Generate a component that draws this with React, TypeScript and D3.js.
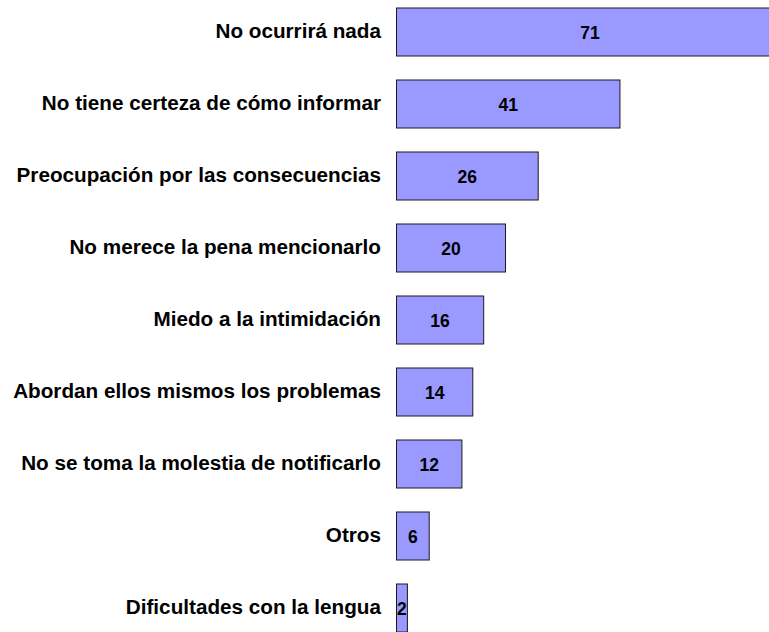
import React from "react";
import * as d3 from "d3";

const categories = [
  "No ocurrirá nada",
  "No tiene certeza de cómo informar",
  "Preocupación por las consecuencias",
  "No merece la pena mencionarlo",
  "Miedo a la intimidación",
  "Abordan ellos mismos los problemas",
  "No se toma la molestia de notificarlo",
  "Otros",
  "Dificultades con la lengua",
];
const values = [71, 41, 26, 20, 16, 14, 12, 6, 2];

const W = 769;
const H = 632;

export default function App() {
  const x = d3.scaleLinear().domain([0, 71]).range([396.5, 396.5 + 71 * 5.45]);
  const y = d3
    .scaleBand<string>()
    .domain(categories)
    .range([-4, 644])
    .paddingInner(1 / 3)
    .paddingOuter(1 / 6);
  const font = "'Liberation Sans', Arial, sans-serif";
  return (
    <div style={{ position: "fixed", left: 0, top: 0, width: W, height: H, overflow: "hidden", background: "#fff" }}>
      <svg width={W} height={H} style={{ display: "block" }}>
        {categories.map((c, i) => {
          const yy = y(c)!;
          const bh = y.bandwidth();
          const x0 = x(0);
          const x1 = x(values[i]);
          return (
            <g key={c}>
              <rect x={x0} y={yy} width={x1 - x0} height={bh} fill="#9999FF" stroke="#1a1a1a" strokeWidth={1} />
              <text
                x={381}
                y={yy + bh / 2 + 5.5}
                textAnchor="end"
                fontFamily={font}
                fontWeight="bold"
                fontSize={20.7}
                fill="#000"
              >
                {c}
              </text>
              <text
                x={(x0 + x1) / 2}
                y={yy + bh / 2 + 6.5}
                textAnchor="middle"
                fontFamily={font}
                fontWeight="bold"
                fontSize={17.5}
                fill="#000"
              >
                {values[i]}
              </text>
            </g>
          );
        })}
      </svg>
    </div>
  );
}
